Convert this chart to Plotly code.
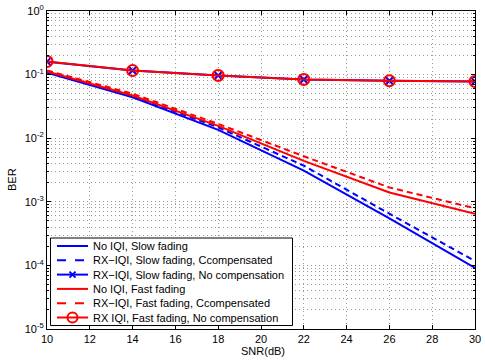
import plotly.graph_objects as go

snr = [10, 14, 18, 22, 26, 30]

ber_noiqi_slow = [0.107, 0.044, 0.0135, 0.0031, 0.00055, 0.000091]
ber_comp_slow = [0.112, 0.046, 0.0148, 0.0037, 0.00065, 0.000117]
ber_nocomp_slow = [0.160, 0.116, 0.097, 0.084, 0.080, 0.078]
ber_noiqi_fast = [0.112, 0.047, 0.0156, 0.0044, 0.0014, 0.00065]
ber_comp_fast = [0.116, 0.050, 0.0168, 0.0052, 0.00168, 0.00079]
ber_nocomp_fast = [0.161, 0.116, 0.097, 0.084, 0.080, 0.078]

names = ["No IQI, Slow fading", "RX\u2212IQI, Slow fading, Ccompensated",
         "RX\u2212IQI, Slow fading, No compensation", "No IQI, Fast fading",
         "RX\u2212IQI, Fast fading, Ccompensated", "RX IQI, Fast fading, No compensation"]

ytick_vals = [10**e for e in range(-5, 1)]
ytick_text = ["10<sup>%d</sup>" % e for e in range(-5, 1)]
minor_vals = [m * 10**e for e in range(-5, 0) for m in range(2, 10)]

BLUE = "#0000ff"
RED = "#ff0000"
DASH = "6px,4px"
GRID = "#9a9a9a"
GRIDDASH = "1px,3px"

# colour, dash, marker for each series
styles = [(BLUE, "solid", None), (BLUE, DASH, None), (BLUE, "solid", "x"),
          (RED, "solid", None), (RED, DASH, None), (RED, "solid", "o")]
series = [ber_noiqi_slow, ber_comp_slow, ber_nocomp_slow,
          ber_noiqi_fast, ber_comp_fast, ber_nocomp_fast]

fig = go.Figure()
for name, ys, (col, dash, mk) in zip(names, series, styles):
    if mk == "x":
        marker = dict(symbol="x-thin", size=7, line=dict(color=col, width=2))
    elif mk == "o":
        marker = dict(symbol="circle-open", size=11, line=dict(color=col, width=2))
    else:
        marker = None
    fig.add_trace(go.Scatter(x=snr, y=ys, name=name,
                             mode="lines+markers" if marker else "lines",
                             line=dict(color=col, width=2, dash=dash),
                             marker=marker, showlegend=False))

# plot area in pixels
W, H = 485, 361
L, R, T, B = 47, 10, 11, 32
pw, ph = W - L - R, H - T - B

def px(x):
    return (x - L) / pw

def py(y):
    return (H - B - y) / ph

# matlab style legend box, drawn by hand
shapes = [dict(type="rect", xref="paper", yref="paper", x0=px(50.5), x1=px(292.5),
               y0=py(325.5), y1=py(238), line=dict(color="black", width=1),
               fillcolor="white", layer="above")]
annots = []
row_y = [246 + 14.3 * i for i in range(6)]
for name, (col, dash, mk), yy in zip(names, styles, row_y):
    shapes.append(dict(type="line", xref="paper", yref="paper", x0=px(57), x1=px(88),
                       y0=py(yy), y1=py(yy), layer="above",
                       line=dict(color=col, width=2, dash="dash" if dash != "solid" else "solid")))
    if mk == "o":
        shapes.append(dict(type="circle", xref="paper", yref="paper", layer="above",
                           x0=px(67.5), x1=px(77.5), y0=py(yy + 5), y1=py(yy - 5),
                           line=dict(color=col, width=2)))
    if mk == "x":
        for d in (1, -1):
            shapes.append(dict(type="line", xref="paper", yref="paper", layer="above",
                               x0=px(69.5), x1=px(75.5), y0=py(yy - 3 * d), y1=py(yy + 3 * d),
                               line=dict(color=col, width=2)))
    annots.append(dict(text=name, xref="paper", yref="paper", x=px(90.5), y=py(yy),
                       xanchor="left", yanchor="middle", showarrow=False,
                       font=dict(size=11)))

annots.append(dict(text="SNR(dB)", xref="paper", yref="paper", x=px(263), y=py(351),
                   xanchor="center", yanchor="middle", showarrow=False, font=dict(size=11)))
annots.append(dict(text="BER", xref="paper", yref="paper", x=px(12), y=py(180),
                   xanchor="center", yanchor="middle", showarrow=False, textangle=-90,
                   font=dict(size=11)))

fig.update_layout(
    width=W, height=H,
    paper_bgcolor="white", plot_bgcolor="white",
    font=dict(family="Liberation Sans, Arial, sans-serif", size=11, color="black"),
    margin=dict(l=L, r=R, t=T, b=B, autoexpand=False),
    showlegend=False,
    shapes=shapes, annotations=annots,
)
fig.update_xaxes(range=[10, 30], dtick=2, showline=True, linecolor="black", linewidth=1,
                 mirror="allticks", ticks="inside", ticklen=4, tickcolor="black",
                 showgrid=True, gridcolor=GRID, griddash=GRIDDASH, zeroline=False,
                 automargin=False)
fig.update_yaxes(type="log", range=[-5, 0], tickvals=ytick_vals, ticktext=ytick_text,
                 showline=True, linecolor="black", linewidth=1, mirror="allticks",
                 ticks="inside", ticklen=4, tickcolor="black",
                 showgrid=True, gridcolor=GRID, griddash=GRIDDASH, zeroline=False,
                 automargin=False,
                 minor=dict(tickvals=minor_vals, ticks="inside", ticklen=2, tickcolor="black",
                            showgrid=True, gridcolor=GRID, griddash=GRIDDASH))

# page body has a default 8px margin, remove it so the chart sits at 0,0
fig.write_html("out.html", config={"displayModeBar": False},
               post_script="document.body.style.margin='0';")
